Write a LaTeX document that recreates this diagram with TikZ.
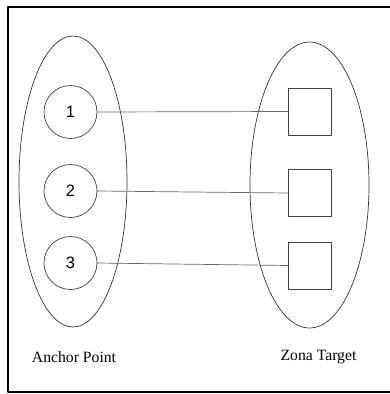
\documentclass[tikz,border=0pt]{standalone}
\usepackage{fontspec}
\setmainfont{Liberation Serif}
\newfontfamily\numfont{Liberation Sans}
\begin{document}
\begin{tikzpicture}[x=1pt, y=-1pt, line join=round, line cap=round,
		anchorpt/.style={circle, draw=black!75, line width=.7pt, minimum size=53pt, inner sep=0pt, font=\numfont\fontsize{16.5}{18}\selectfont},
		targetbox/.style={draw=black!75, line width=.7pt, minimum width=43pt, minimum height=47pt, inner sep=0pt},
		zone/.style={draw=black!80, line width=.7pt},
		link/.style={draw=black!60, line width=.7pt},
		caption/.style={font=\fontsize{15.7}{18}\selectfont}]
		\useasboundingbox (0,0) rectangle (390,394);
		\draw[line width=1.6pt] (390,7) -- (8,7) -- (8,392) -- (390,392);
		\draw[zone] (73,181.5) ellipse [x radius=54, y radius=145.5];
		\draw[zone] (309.5,185) ellipse [x radius=59.5, y radius=143];
		\foreach \i/\ya/\yb in {1/112/111.5, 2/191/193, 3/263/265.5} {
			\node[anchorpt] (a\i) at (70.5,\ya) {\i};
			\node[targetbox] (t\i) at (310,\yb) {};
			\draw[link] (a\i.east) -- (t\i.west);
		}
		\node[caption] (lblA) at (74,357) {Anchor Point};
		\node[caption] (lblT) at (318.5,357) {Zona Target};
	\end{tikzpicture}
\end{document}
